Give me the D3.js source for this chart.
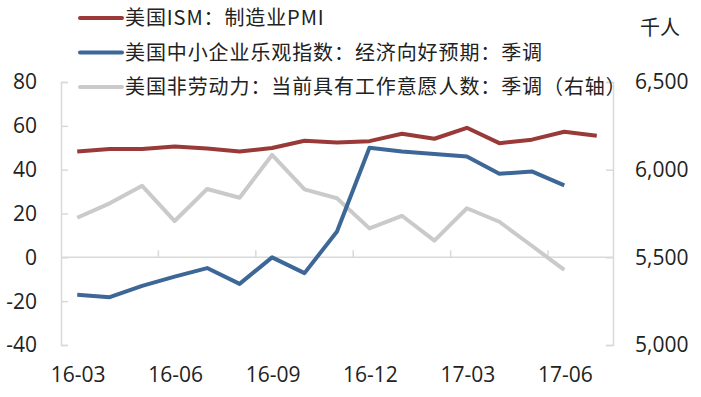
<!DOCTYPE html>
<html>
<head>
<meta charset="utf-8">
<script src="https://cdn.jsdelivr.net/npm/d3@7/dist/d3.min.js"></script>
<style>
  body { margin: 0; background: #fff; }
  text { font-family: "Noto Sans CJK SC", "Noto Sans", sans-serif; fill: #222; }
  text.num { font-family: "Open Sans", "Noto Sans", sans-serif; font-size: 21px; }
</style>
</head>
<body>
<div class="graph"></div>
<script>
// data
const months = ["16-03","16-04","16-05","16-06","16-07","16-08","16-09","16-10","16-11","16-12",
                "17-01","17-02","17-03","17-04","17-05","17-06","17-07"];
const tickMonths = ["16-03","16-06","16-09","16-12","17-03","17-06"];
const pmi = [48.3, 49.4, 49.4, 50.6, 49.7, 48.3, 49.9, 53.2, 52.4, 53.0,
             56.4, 54.1, 59.1, 52.1, 53.7, 57.3, 55.5];
const smallBiz = [-17.1, -18.2, -13.0, -8.8, -4.9, -12.1, 0.0, -7.2, 11.8, 50.0,
                  48.3, 47.1, 46.0, 38.1, 39.2, 32.8, null];
const notInLabor = [5726, 5808, 5908, 5707, 5890, 5840, 6084, 5888, 5837, 5665,
                    5737, 5595, 5780, 5703, 5566, 5428, null];
const leftTicks = [-40, -20, 0, 20, 40, 60, 80];
const rightTicks = [5000, 5500, 6000, 6500];

const SIZE = {X: 701, Y: 397};
const PLOT = {LEFT: 61, RIGHT: 613, TOP: 82, BOTTOM: 345};
const AXIS_COLOR = "#d9d9d9";

const svg = d3.select(".graph").append("svg")
    .attr("width", SIZE.X)
    .attr("height", SIZE.Y);

//scales
const x = d3.scaleBand()
    .domain(months)
    .range([PLOT.LEFT, PLOT.RIGHT]);
const xc = m => x(m) + x.bandwidth() / 2;

const yL = d3.scaleLinear().domain([-40, 80]).range([PLOT.BOTTOM, PLOT.TOP]);
const yR = d3.scaleLinear().domain([5000, 6500]).range([PLOT.BOTTOM, PLOT.TOP]);

//side axes, ticks pointing inward
const leftAxis = svg.append("g")
    .attr("transform", `translate(${PLOT.LEFT},0)`)
    .call(d3.axisRight(yL).tickValues(leftTicks).tickSize(7).tickFormat(""));
const rightAxis = svg.append("g")
    .attr("transform", `translate(${PLOT.RIGHT},0)`)
    .call(d3.axisLeft(yR).tickValues(rightTicks).tickSize(7).tickFormat(""));
[leftAxis, rightAxis].forEach(a => {
    a.select(".domain").attr("stroke", AXIS_COLOR).attr("stroke-width", 1.5);
    a.selectAll(".tick line").attr("stroke", AXIS_COLOR).attr("stroke-width", 1.5);
});

//tick labels
svg.selectAll("text.ly")
    .data(leftTicks)
    .enter().append("text")
    .attr("class", "ly num")
    .attr("x", 37)
    .attr("y", d => yL(d))
    .attr("dy", "0.35em")
    .attr("text-anchor", "end")
    .text(d => d);

svg.selectAll("text.ry")
    .data(rightTicks)
    .enter().append("text")
    .attr("class", "ry num")
    .attr("x", 635)
    .attr("y", d => yR(d))
    .attr("dy", "0.35em")
    .text(d => d3.format(",")(d));

svg.append("text")
    .attr("x", 640)
    .attr("y", 28)
    .attr("dy", "0.35em")
    .style("font-size", "20px")
    .text("千人");

//x axis sits at zero
const xAxis = svg.append("g")
    .attr("transform", `translate(0,${yL(0)})`);
xAxis.append("line")
    .attr("x1", PLOT.LEFT).attr("x2", PLOT.RIGHT)
    .attr("stroke", AXIS_COLOR).attr("stroke-width", 1.5);
xAxis.selectAll("line.xt")
    .data(tickMonths.slice(1))
    .enter().append("line")
    .attr("class", "xt")
    .attr("x1", d => x(d)).attr("x2", d => x(d))
    .attr("y1", 0).attr("y2", -7)
    .attr("stroke", AXIS_COLOR).attr("stroke-width", 1.5);

svg.selectAll("text.xl")
    .data(tickMonths)
    .enter().append("text")
    .attr("class", "xl num")
    .attr("x", d => xc(d) + 1)
    .attr("y", 375)
    .attr("dy", "0.35em")
    .attr("text-anchor", "middle")
    .text(d => d);

//series
const series = [
    {name: "美国ISM：制造业PMI", values: pmi, y: yL, color: "#993a38"},
    {name: "美国中小企业乐观指数：经济向好预期：季调", values: smallBiz, y: yL, color: "#3c6797"},
    {name: "美国非劳动力：当前具有工作意愿人数：季调（右轴）", values: notInLabor, y: yR, color: "#cacaca"}
];

// gray first so it sits underneath
[series[2], series[0], series[1]].forEach(s => {
    const line = d3.line()
        .defined(d => d.v != null)
        .x(d => xc(d.m))
        .y(d => s.y(d.v));
    svg.append("path")
        .datum(months.map((m, i) => ({m: m, v: s.values[i]})))
        .attr("fill", "none")
        .attr("stroke", s.color)
        .attr("stroke-width", 4)
        .attr("stroke-linejoin", "round")
        .attr("d", line);
});

//legend
const legend = svg.selectAll("g.legend")
    .data(series)
    .enter().append("g")
    .attr("class", "legend")
    .attr("transform", (d, i) => `translate(80,${18 + i * 34.5})`);
legend.append("line")
    .attr("x1", 0).attr("x2", 42)
    .attr("stroke", d => d.color)
    .attr("stroke-width", 4)
    .attr("stroke-linecap", "round");
legend.append("text")
    .attr("x", 45)
    .attr("dy", "0.35em")
    .style("font-size", "20px")
    .style("letter-spacing", "0.9px")
    .text(d => d.name);
</script>
</body>
</html>
